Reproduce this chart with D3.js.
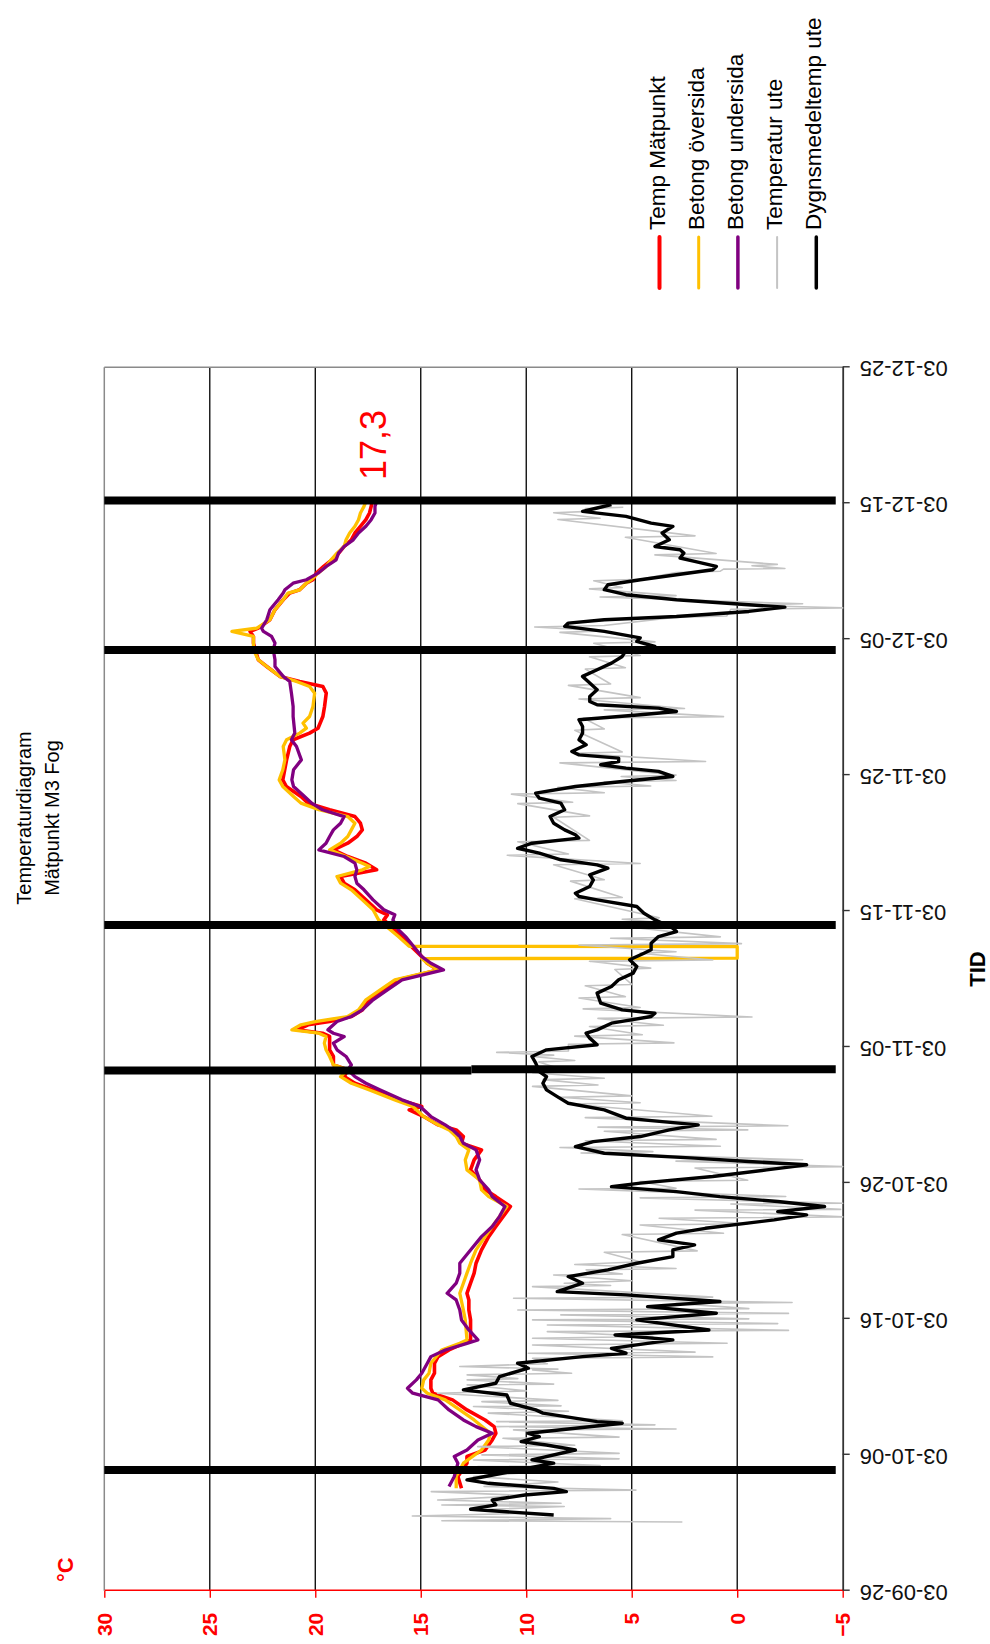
<!DOCTYPE html>
<html><head><meta charset="utf-8">
<script src="https://cdn.jsdelivr.net/npm/d3@7"></script>
<style>body{margin:0;background:#fff}svg{display:block}</style>
</head><body>
<svg id="c" width="990" height="1644"></svg>
<script>
// ---------- data (day offsets from startDate, °C) ----------
const startDate = "2003-09-26";
const endDate = "2003-12-25";
const tempTicks = [-5, 0, 5, 10, 15, 20, 25, 30];
const dateTickDays = [0, 10, 20, 30, 40, 50, 60, 70, 80, 90];
const titleLines = ["Temperaturdiagram", "Mätpunkt M3 Fog"];
const seriesNames = ["Temp Mätpunkt", "Betong översida", "Betong undersida", "Temperatur ute", "Dygnsmedeltemp ute"];
const seriesColors = ["#ff0000", "#ffc000", "#800080", "#c4c4c4", "#000000"];
const lastValueLabel = "17,3";
const axisTitleY = "°C";
const axisTitleX = "TID";

// vertical marker lines: [day, fromTemp, toTemp]
const markerLines = [[8.88, 30, -4.67], [38.27, 30, 12.6], [38.36, 12.6, -4.67], [48.98, 30, -4.67], [69.2, 30, -4.67], [80.2, 30, -4.67]];

const tempMatpunkt = [[7.53,13.07],[8.40,13.24],[9.38,12.81],[9.87,12.81],[10.35,11.95],[11.09,11.61],[11.58,11.44],[12.07,11.52],[12.56,11.95],[13.30,12.81],[14.04,13.49],[14.53,14.43],[14.89,14.52],[15.51,14.52],[16.00,14.35],[16.73,14.35],[17.22,14.18],[17.71,13.66],[18.20,12.98],[18.45,12.64],[19.18,12.64],[19.92,12.64],[20.65,12.72],[21.39,12.72],[21.88,12.81],[22.62,12.64],[23.36,12.47],[24.09,12.38],[25.07,12.12],[26.05,11.78],[26.79,11.44],[27.52,11.10],[28.26,10.75],[28.99,11.44],[29.49,11.95],[30.22,12.21],[30.96,12.64],[31.69,12.47],[32.43,12.12],[32.92,13.07],[33.41,12.98],[33.90,13.32],[34.27,14.18],[34.88,14.86],[35.37,15.55],[35.62,14.95],[36.11,16.06],[36.84,17.26],[37.33,18.12],[37.82,18.63],[38.32,18.46],[38.68,19.14],[39.30,19.14],[39.79,19.32],[40.77,19.32],[41.01,19.66],[41.26,20.86],[41.63,20.34],[41.87,19.32],[42.24,18.29],[42.73,17.77],[43.47,17.43],[44.20,16.75],[44.94,16.06],[45.67,14.18],[46.16,14.69],[46.65,14.95],[47.15,15.29],[48.62,16.23],[49.35,16.75],[49.72,16.58],[50.09,17.09],[50.82,17.60],[51.56,18.12],[52.05,18.63],[52.54,18.80],[53.03,17.09],[53.52,17.60],[54.01,18.46],[54.50,19.14],[54.99,18.46],[55.48,18.03],[55.97,17.77],[56.46,17.86],[56.95,18.12],[57.45,19.32],[57.94,20.34],[58.43,20.68],[59.16,21.37],[59.65,21.54],[60.39,21.45],[61.12,21.36],[62.10,21.21],[62.60,21.05],[63.09,20.27],[63.45,19.87],[64.31,19.64],[65.05,19.56],[66.03,19.48],[66.52,19.64],[66.89,20.74],[67.26,21.68],[67.99,22.30],[68.48,22.70],[69.22,22.85],[69.71,22.93],[70.20,22.93],[70.57,23.09],[70.81,22.70],[71.43,22.15],[72.16,21.91],[72.90,21.52],[73.39,21.21],[73.63,20.74],[74.12,20.42],[74.37,20.11],[74.86,19.95],[75.35,19.60],[75.84,19.20],[76.33,18.89],[76.82,18.63],[77.31,18.29],[77.81,18.12],[78.30,17.86],[78.79,17.60],[79.28,17.43],[79.77,17.35],[80.10,17.30]];

const betongOversida = [[7.53,13.32],[8.40,13.32],[9.38,12.98],[10.35,12.12],[11.09,11.78],[11.58,11.70],[12.56,12.47],[13.30,13.15],[14.04,13.84],[14.53,14.69],[14.89,14.95],[15.51,14.86],[16.00,14.61],[16.73,14.52],[17.71,14.01],[18.20,13.15],[18.45,12.81],[19.92,12.89],[20.65,12.98],[21.88,13.15],[22.62,12.98],[23.36,12.81],[24.09,12.64],[25.07,12.38],[26.05,11.95],[26.79,11.61],[27.52,11.27],[28.26,10.92],[28.99,11.78],[29.49,12.12],[30.22,12.21],[30.96,12.81],[31.69,12.89],[32.43,12.72],[32.92,13.15],[33.41,13.32],[33.90,13.66],[34.27,14.18],[34.88,14.86],[35.62,15.38],[36.11,16.23],[36.84,17.43],[37.33,18.29],[37.82,18.80],[38.32,18.46],[38.68,19.14],[39.30,19.32],[39.79,19.49],[40.28,19.57],[40.77,19.49],[41.01,19.83],[41.26,21.11],[41.63,20.68],[41.87,20.00],[42.24,18.46],[42.73,17.95],[43.47,17.60],[44.20,16.92],[44.94,16.23],[45.67,14.18],[46.16,14.69],[46.50,14.95],[46.53,0],[47.39,0],[47.41,15.55],[48.12,16.06],[49.35,17.00],[50.09,17.26],[50.82,17.77],[51.56,18.29],[52.05,18.80],[52.54,18.97],[53.03,17.77],[53.27,17.43],[53.52,17.77],[54.50,19.32],[54.99,18.80],[55.48,18.46],[55.97,18.29],[56.46,18.12],[56.95,18.46],[57.45,19.83],[57.94,20.68],[58.43,21.03],[59.16,21.54],[59.65,21.71],[60.39,21.54],[61.12,21.44],[62.10,21.52],[62.60,21.36],[63.09,20.74],[63.45,20.42],[63.82,20.58],[64.31,20.27],[65.05,20.11],[66.03,20.03],[66.52,20.27],[66.89,20.89],[67.26,21.68],[67.99,22.30],[68.48,22.70],[69.22,22.93],[70.20,22.93],[70.57,23.95],[70.81,22.77],[71.43,22.15],[72.16,21.91],[72.90,21.52],[73.39,21.29],[73.63,20.74],[74.12,20.42],[74.37,20.19],[74.86,19.87],[75.35,19.48],[75.84,19.25],[76.33,18.97],[76.82,18.63],[77.31,18.54],[77.81,18.37],[78.30,18.12],[78.79,17.95],[79.28,17.86],[79.77,17.69],[80.10,17.60]];

const betongUndersida = [[7.66,13.66],[8.40,13.41],[9.38,13.24],[9.87,13.41],[10.35,12.81],[11.09,12.29],[11.58,11.61],[12.07,12.38],[12.56,12.98],[13.30,13.66],[14.04,14.18],[14.53,15.38],[14.89,15.63],[15.51,15.21],[16.00,14.95],[16.73,14.69],[17.22,14.52],[17.71,13.84],[18.20,12.81],[18.45,12.29],[19.18,12.72],[19.92,13.07],[20.65,13.15],[21.39,13.32],[21.88,13.75],[22.62,13.32],[23.36,13.15],[24.09,13.15],[25.07,12.64],[26.05,12.12],[26.79,11.61],[27.52,11.27],[28.26,11.01],[28.99,11.61],[29.49,11.78],[30.22,12.21],[30.96,12.38],[31.69,12.21],[32.43,12.38],[32.92,12.98],[33.41,13.15],[33.90,13.49],[34.27,13.84],[34.88,14.52],[35.62,15.03],[36.11,15.89],[36.84,16.92],[37.33,17.60],[37.82,18.12],[38.32,18.46],[38.68,18.29],[39.30,18.54],[39.79,18.97],[40.28,19.14],[40.77,18.63],[41.01,19.14],[41.26,19.40],[41.63,19.14],[41.87,18.97],[42.24,18.29],[42.73,17.77],[43.47,17.26],[44.20,16.58],[44.94,15.89],[45.67,13.92],[46.16,14.52],[46.65,14.95],[47.15,15.21],[48.12,15.72],[48.62,16.06],[49.35,16.32],[49.72,16.23],[50.09,16.75],[50.82,17.26],[51.56,17.69],[52.05,18.03],[52.54,18.12],[53.03,18.03],[53.52,18.12],[54.01,18.63],[54.50,19.83],[54.99,19.49],[55.48,19.32],[55.97,19.14],[56.46,18.80],[56.95,18.63],[57.45,19.66],[57.94,20.17],[58.43,20.51],[59.16,21.03],[59.65,21.11],[60.39,21.03],[61.12,20.66],[62.10,20.89],[62.60,21.13],[63.09,20.97],[64.31,21.05],[65.05,21.05],[66.03,21.13],[66.89,21.21],[67.26,21.52],[67.99,21.91],[68.48,21.91],[69.22,21.99],[69.71,21.91],[70.20,22.07],[70.57,22.46],[70.81,22.54],[71.43,22.30],[72.16,22.15],[72.90,21.76],[73.39,21.52],[73.63,21.44],[74.12,21.05],[74.37,20.42],[74.86,19.87],[75.35,19.48],[75.84,19.01],[76.33,18.90],[76.82,18.63],[77.31,18.20],[77.81,17.95],[78.30,17.60],[78.79,17.35],[79.28,17.17],[79.77,17.17],[80.10,17.10]];

const temperaturUte = [[5.05,2.6],[5.15,14.0],[5.3,6.0],[5.49,15.4],[5.7,9.7],[5.95,12.5],[6.19,8.2],[6.3,14.0],[6.43,8.35],[6.67,14.2],[7.0,10.0],[7.29,14.5],[7.4,4.8],[7.66,12.0],[8.0,8.5],[8.4,12.5],[8.8,9.0],[9.13,12.3],[9.2,6.5],[9.62,12.5],[9.7,5.6],[9.99,12.1],[10.1,5.6],[10.6,12.3],[10.7,7.7],[11.21,11.1],[11.3,5.6],[11.83,10.6],[11.9,2.9],[12.07,11.4],[12.2,3.9],[12.44,11.4],[12.5,5.45],[13.06,11.8],[13.2,8.0],[13.55,12.5],[13.6,8.35],[13.91,12.1],[14.0,8.5],[14.53,14.2],[14.7,10.0],[15.14,12.8],[15.2,8.7],[15.51,12.8],[15.6,10.4],[15.88,12.8],[16.0,7.85],[16.24,9.7],[16.3,8.5],[16.49,13.15],[16.7,9.0],[17.1,9.7],[17.2,1.16],[17.47,9.9],[17.55,2.0],[18.08,9.7],[18.2,0.48],[18.57,9.7],[18.7,4.0],[19.06,9.0],[19.15,-2.43],[19.55,9.0],[19.65,-1.92],[19.92,9.7],[20.0,-0.55],[20.29,8.36],[20.4,-2.43],[20.65,10.4],[20.75,-0.55],[21.14,2.9],[21.2,-2.6],[21.51,10.6],[21.6,1.16],[22.37,9.7],[22.45,6.0],[22.62,8.2],[22.8,5.0],[23.23,8.7],[23.3,5.45],[23.6,7.16],[23.7,2.9],[24.0,7.7],[24.2,4.6],[24.9,6.3],[25.0,1.9],[26.2,5.45],[26.3,0.65],[26.9,4.6],[27.0,-0.5],[27.4,3.7],[27.5,-5.0],[28.0,2.0],[28.05,-4.9],[28.45,0.3],[28.5,-5.0],[28.9,4.6],[29.0,-2.3],[29.55,7.5],[29.6,2.9],[30.1,4.6],[30.2,-0.5],[31.1,2.0],[31.2,-5.0],[31.6,2.9],[31.7,-3.1],[32.2,7.4],[32.3,4.0],[32.6,8.4],[32.7,0.8],[33.1,7.2],[33.2,1.0],[33.8,6.3],[33.9,-0.5],[34.1,6.6],[34.2,-2.4],[34.8,7.2],[34.9,1.2],[35.8,8.0],[35.9,4.6],[36.3,8.4],[36.4,5.0],[37.1,9.7],[37.2,6.6],[37.6,9.2],[37.7,6.3],[38.1,9.7],[38.2,8.0],[38.9,9.4],[39.0,7.7],[39.3,9.7],[39.4,8.7],[39.6,11.4],[39.7,8.0],[40.2,8.0],[40.3,3.0],[40.8,7.7],[40.9,4.5],[41.5,7.0],[41.6,3.5],[42.1,6.6],[42.2,-0.7],[42.8,7.3],[42.9,4.6],[43.6,7.5],[43.7,5.3],[44.5,7.2],[44.6,5.0],[45.7,5.8],[45.8,4.1],[46.3,7.0],[46.4,1.16],[46.9,4.6],[47.0,2.9],[47.5,7.5],[47.6,-0.2],[48.0,6.0],[48.1,0.8],[48.9,5.6],[49.0,2.5],[49.4,5.45],[49.5,3.7],[50.9,7.7],[51.0,5.45],[52.2,7.9],[52.3,6.3],[53.4,8.7],[53.5,4.6],[54.1,10.9],[54.2,8.0],[55.1,10.4],[55.2,7.0],[56.9,8.7],[57.0,7.0],[57.9,10.4],[58.0,7.8],[58.6,10.7],[58.7,6.3],[59.1,8.5],[59.2,4.1],[59.5,6.3],[59.6,2.9],[59.9,5.5],[60.0,2.9],[60.9,8.4],[61.0,1.5],[61.6,7.7],[61.7,5.45],[63.3,7.7],[63.4,6.3],[64.2,7.3],[64.3,0.65],[64.8,6.3],[64.9,2.5],[65.6,7.5],[65.7,4.6],[66.6,8.0],[66.7,6.0],[67.8,7.2],[67.9,5.3],[68.7,7.0],[68.8,4.6],[69.7,6.8],[69.8,3.9],[70.5,8.4],[70.6,6.3],[70.9,9.6],[71.0,6.3],[71.6,3.0],[71.7,0.5],[72.2,0.3],[72.3,-5.0],[72.5,0.0],[72.6,-3.1],[73.1,6.5],[73.2,2.9],[73.7,7.0],[73.8,5.45],[74.3,6.8],[74.4,4.6],[74.9,2.9],[75.0,0.8],[75.15,0.65],[75.2,-2.26],[75.4,-0.7],[75.5,-1.9],[76.2,3.9],[76.3,1.0],[77.5,5.3],[77.6,2.0],[78.8,8.5],[78.9,6.5],[79.3,8.7],[79.4,7.0],[79.6,7.2],[79.7,5.4]];

const dygnsmedeltempUte = [[5.57,8.70],[5.99,12.64],[6.31,11.44],[6.67,11.61],[7.04,10.07],[7.29,8.10],[7.53,8.70],[7.90,11.78],[8.15,12.81],[8.40,11.95],[9.38,8.70],[9.62,9.73],[10.35,7.67],[10.72,9.04],[10.97,10.24],[11.34,9.38],[11.58,9.90],[12.32,5.45],[12.44,6.64],[13.06,9.21],[13.30,9.55],[13.79,10.75],[14.40,10.92],[14.77,12.98],[15.26,11.44],[15.75,11.27],[16.37,9.90],[16.73,10.41],[17.22,7.33],[17.47,5.27],[17.83,5.96],[18.45,3.05],[18.81,5.79],[19.18,1.34],[19.92,4.76],[20.41,0.99],[20.90,4.25],[21.27,0.82],[21.76,5.27],[22.00,8.53],[22.62,7.33],[23.11,8.01],[23.60,6.13],[24.09,4.76],[24.58,3.05],[25.07,3.05],[25.44,2.02],[25.81,3.73],[26.30,2.88],[26.66,1.51],[27.28,-1.75],[27.65,-3.29],[27.89,-1.92],[28.26,-4.14],[28.63,-1.92],[28.99,0.82],[29.36,2.88],[29.73,5.96],[29.98,4.59],[30.47,1.16],[30.96,-1.40],[31.33,-3.29],[31.57,-0.55],[31.82,2.02],[32.18,6.30],[32.67,7.67],[33.04,6.82],[33.41,4.59],[33.90,3.22],[34.27,1.85],[34.51,3.56],[34.76,5.27],[35.37,6.30],[35.86,8.01],[36.35,8.53],[36.84,9.04],[37.33,9.21],[37.82,9.04],[38.19,9.38],[38.81,9.55],[39.30,9.73],[39.79,9.04],[40.16,6.64],[40.65,6.99],[41.01,7.16],[41.26,6.64],[41.75,5.96],[42.24,4.08],[42.48,3.90],[42.73,5.45],[43.22,6.47],[43.96,6.64],[44.45,5.96],[44.94,5.62],[45.43,4.93],[45.92,4.76],[46.41,5.10],[46.90,4.42],[47.15,4.08],[47.63,4.08],[48.12,3.73],[48.49,2.88],[48.74,3.05],[49.35,3.90],[49.84,4.42],[50.33,4.76],[50.82,6.64],[51.07,7.50],[51.31,7.67],[51.80,6.99],[52.29,6.82],[52.66,6.99],[53.15,6.13],[53.40,6.64],[53.77,8.36],[54.26,9.38],[54.62,10.41],[54.99,9.73],[55.36,7.50],[55.61,7.67],[55.97,8.18],[56.46,8.70],[56.95,8.87],[57.45,8.18],[57.94,8.36],[58.30,9.38],[58.67,9.55],[59.16,7.67],[59.53,5.45],[59.90,3.05],[60.27,3.73],[60.51,5.27],[60.76,6.47],[61.00,5.62],[61.25,5.62],[61.49,7.50],[61.74,7.84],[62.23,7.16],[62.60,7.50],[63.09,7.33],[63.58,7.33],[64.07,7.50],[64.44,4.59],[64.68,2.88],[64.93,3.73],[65.17,6.64],[65.42,6.99],[65.78,6.99],[66.28,6.64],[66.77,6.99],[67.26,7.33],[67.75,6.64],[68.24,5.96],[68.73,5.45],[69.17,5.27],[69.46,3.90],[69.83,4.76],[70.10,4.60],[70.57,6.30],[70.94,8.18],[71.18,8.01],[71.43,6.30],[71.67,2.88],[72.04,-0.55],[72.36,-2.26],[72.53,-0.55],[72.90,2.88],[73.27,5.27],[73.64,6.30],[74.00,6.13],[74.37,4.59],[74.74,2.88],[75.11,1.16],[75.35,0.99],[75.72,2.02],[75.97,2.71],[76.33,2.53],[76.58,2.71],[76.82,3.90],[77.31,3.22],[77.81,3.56],[78.30,3.05],[78.54,4.08],[79.03,5.27],[79.40,7.33],[79.65,6.64],[79.90,5.96]];

// ---------- drawing ----------
const FONT = "'Liberation Sans', Arial, Helvetica, sans-serif";
const svg = d3.select("#c");
svg.append("rect").attr("width", 990).attr("height", 1644).attr("fill", "#fff");
// the whole chart is drawn in landscape orientation and turned a quarter turn
const g = svg.append("g").attr("transform", "translate(0,1644) rotate(-90)");

const t0 = new Date(startDate + "T00:00:00Z");
const dayToDate = d => new Date(+t0 + d * 864e5);
const x = d3.scaleUtc().domain([t0, new Date(endDate + "T00:00:00Z")]).range([53.3, 1276.7]);
const y = d3.scaleLinear().domain([-5, 30]).range([842.7, 104.3]);
const [xL, xR] = x.range();

// gridlines
g.append("g").selectAll("line").data(tempTicks.filter(t => t > -5 && t < 30)).join("line")
  .attr("x1", xL).attr("x2", xR).attr("y1", d => y(d)).attr("y2", d => y(d))
  .attr("stroke", "#000").attr("stroke-width", 1.3);
g.append("line").attr("x1", xL).attr("x2", xR).attr("y1", y(30)).attr("y2", y(30))
  .attr("stroke", "#8a8a8a").attr("stroke-width", 1.5);
g.append("line").attr("x1", xR).attr("x2", xR).attr("y1", y(30)).attr("y2", y(-5))
  .attr("stroke", "#8a8a8a").attr("stroke-width", 1.5);

// temperature axis (red)
const ya = g.append("g").attr("transform", `translate(${xL},0)`)
  .call(d3.axisLeft(y).tickValues(tempTicks).tickSizeInner(7).tickSizeOuter(0).tickPadding(15).tickFormat(d3.format("d")));
ya.select(".domain").attr("stroke", "#ff0000").attr("stroke-width", 1.6);
ya.selectAll(".tick line").attr("stroke", "#ff0000").attr("stroke-width", 1.4);
ya.selectAll(".tick text").attr("fill", "#ff0000").attr("font-family", FONT)
  .attr("font-size", 21).attr("font-weight", "bold").attr("dy", "0.33em");

// date axis
const dateTicks = dateTickDays.map(dayToDate);
const xa = g.append("g").attr("transform", `translate(0,${y(-5)})`)
  .call(d3.axisBottom(x).tickValues(dateTicks).tickSizeInner(7).tickSizeOuter(0).tickFormat(d3.utcFormat("%y-%m-%d")));
xa.select(".domain").attr("stroke", "#333").attr("stroke-width", 1.8);
xa.selectAll(".tick line").attr("stroke", "#333").attr("stroke-width", 1.4);
xa.selectAll(".tick text").attr("fill", "#111").attr("font-family", FONT).attr("font-size", 22)
  .attr("text-anchor", "end").attr("transform", "rotate(-90)")
  .attr("x", -17).attr("y", 0).attr("dy", "0.25em");

// series
const line = d3.line().x(d => x(dayToDate(d[0]))).y(d => y(d[1]));
const series = [
  {data: tempMatpunkt, color: seriesColors[0], w: 3.6},
  {data: betongOversida, color: seriesColors[1], w: 3.3},
  {data: betongUndersida, color: seriesColors[2], w: 3.3},
  {data: temperaturUte, color: seriesColors[3], w: 1.6},
  {data: dygnsmedeltempUte, color: seriesColors[4], w: 3.4}
];
g.append("g").selectAll("path").data(series).join("path")
  .attr("d", s => line(s.data)).attr("fill", "none")
  .attr("stroke", s => s.color).attr("stroke-width", s => s.w)
  .attr("stroke-linejoin", "round");

// marker lines
g.append("g").selectAll("line").data(markerLines).join("line")
  .attr("x1", d => x(dayToDate(d[0]))).attr("x2", d => x(dayToDate(d[0])))
  .attr("y1", d => y(d[1])).attr("y2", d => y(d[2]))
  .attr("stroke", "#000").attr("stroke-width", 8);

// title
g.append("text").attr("x", 826).attr("y", 31).attr("text-anchor", "middle")
  .attr("font-family", FONT).attr("font-size", 20).attr("fill", "#000").text(titleLines[0]);
g.append("text").attr("x", 826).attr("y", 59).attr("text-anchor", "middle")
  .attr("font-family", FONT).attr("font-size", 20).attr("fill", "#000").text(titleLines[1]);

// axis titles & labels
g.append("text").attr("x", 62).attr("y", 73).attr("font-family", FONT).attr("font-size", 22)
  .attr("font-weight", "bold").attr("fill", "#ff0000").text(axisTitleY);
g.append("text").attr("x", (xL + xR) / 2 + 10).attr("y", 985).attr("text-anchor", "middle")
  .attr("font-family", FONT).attr("font-size", 22).attr("font-weight", "bold").attr("fill", "#000").text(axisTitleX);
g.append("text").attr("x", 1164).attr("y", 386).attr("font-family", FONT).attr("font-size", 36)
  .attr("fill", "#ff0000").text(lastValueLabel);

// legend
const lg = g.append("g").selectAll("g").data(seriesNames).join("g")
  .attr("transform", (d, i) => `translate(0,${664.5 + i * 39.2})`);
lg.append("line").attr("x1", 1356).attr("x2", 1407).attr("y1", -5).attr("y2", -5)
  .attr("stroke", (d, i) => seriesColors[i]).attr("stroke-width", (d, i) => [4, 3, 3.5, 2, 3.5][i])
  .attr("stroke-linecap", "round");
lg.append("text").attr("x", 1414).attr("y", 0).attr("font-family", FONT).attr("font-size", 22.5)
  .attr("fill", "#000").text(d => d);
</script>
</body></html>
